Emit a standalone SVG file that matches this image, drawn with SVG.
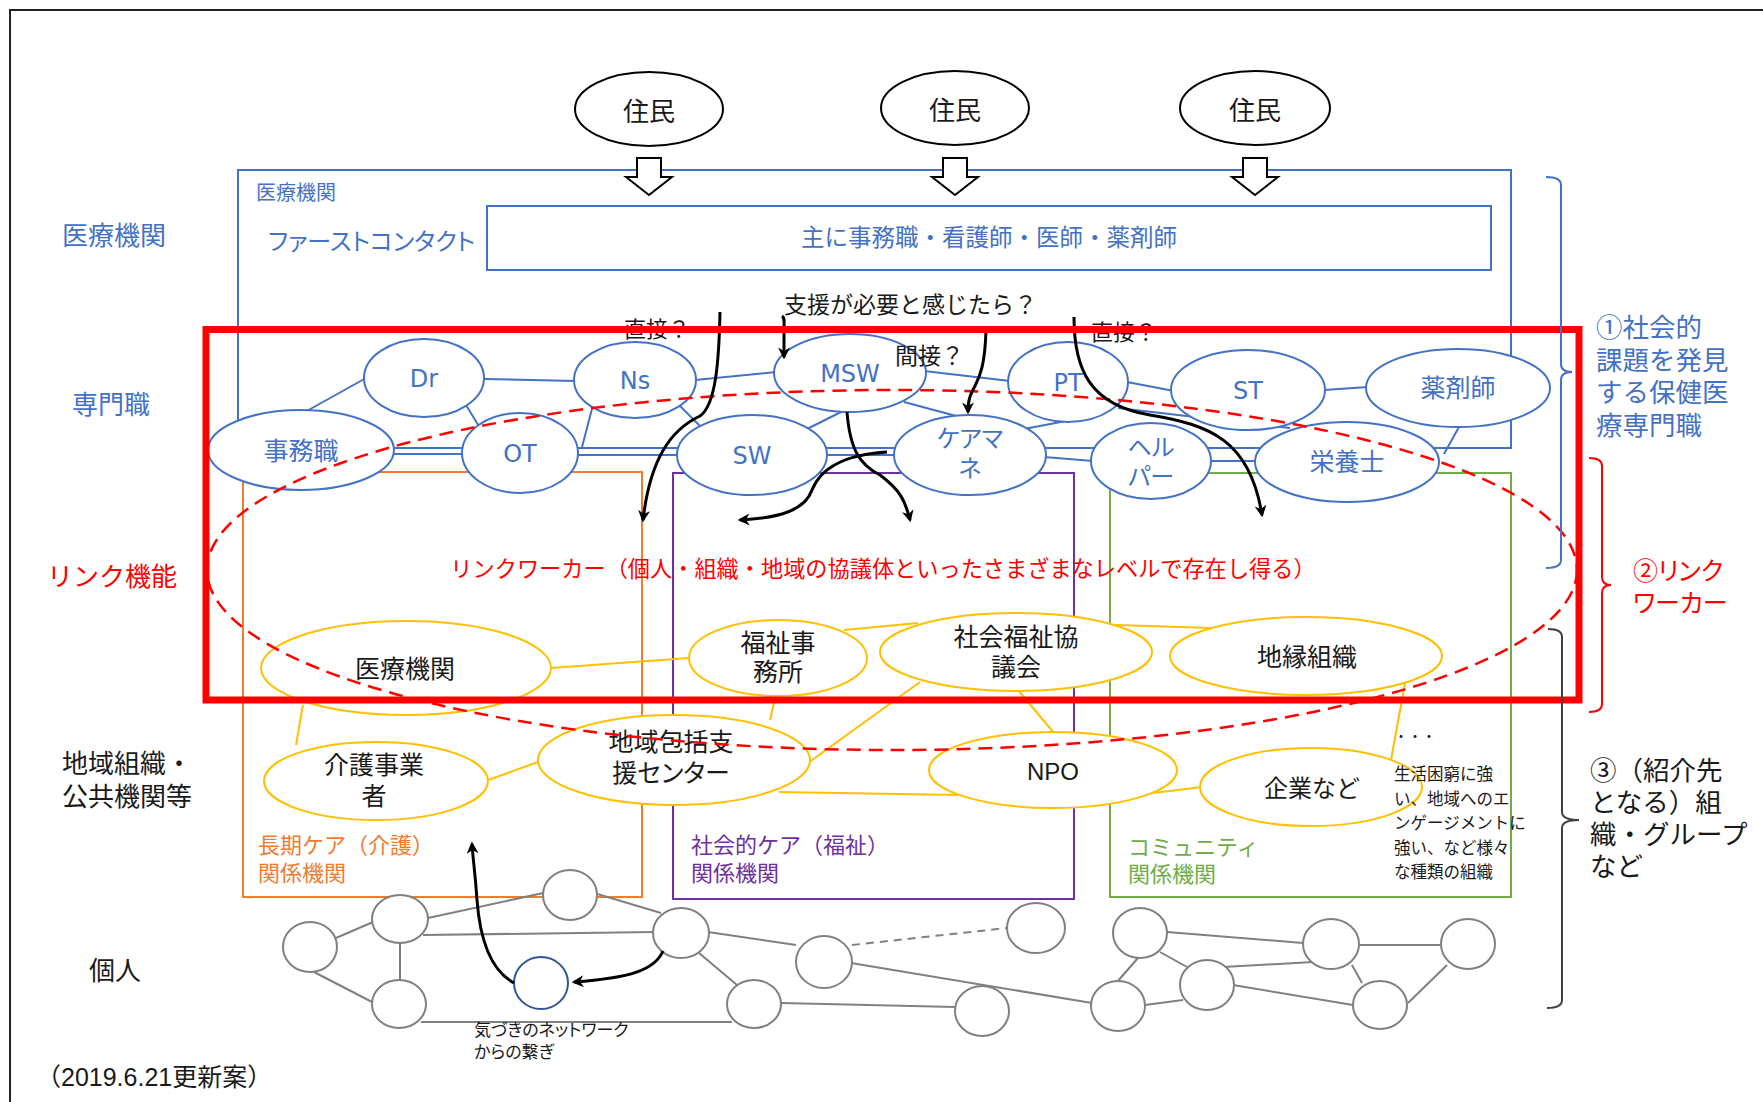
<svg xmlns="http://www.w3.org/2000/svg" width="1763" height="1102" viewBox="0 0 1763 1102">
<defs>
<style>
.jp{font-family:"Liberation Sans","Noto Sans CJK JP",sans-serif}
.lat{font-family:"DejaVu Sans","Noto Sans",sans-serif}
.arial{font-family:"Liberation Sans",Arial,sans-serif}
.blue{fill:#4472C4}
.red{fill:#FF0000}
.blk{fill:#1a1a1a}
.mid{text-anchor:middle}
.prof{fill:#fff;stroke:#4472C4;stroke-width:2}
.org{fill:#fff;stroke:#FFC000;stroke-width:2}
.ind{fill:#fff;stroke:#808080;stroke-width:2}
.bl{stroke:#4472C4;stroke-width:2;fill:none}
.yl{stroke:#FFC000;stroke-width:2;fill:none}
.gl{stroke:#808080;stroke-width:2;fill:none}
.arr{stroke:#000;stroke-width:3;fill:none;marker-end:url(#ah)}
.hol{fill:#fff;stroke:#000;stroke-width:2}
.palt{font-feature-settings:"palt"}
</style>
<marker id="ah" viewBox="0 0 10 10" refX="8" refY="5" markerWidth="4" markerHeight="4" orient="auto" markerUnits="strokeWidth">
<path d="M0,0 L10,5 L0,10 L3,5 z" fill="#000"/>
</marker>
</defs>
<rect width="1763" height="1102" fill="#fff"/>
<path d="M10,1102 V10 H1763" fill="none" stroke="#222" stroke-width="2"/>

<!-- left labels -->
<g id="labels-left" class="jp" font-size="26">
<text x="114" y="245" class="blue mid">医療機関</text>
<text x="111" y="414" class="blue mid">専門職</text>
<text x="112" y="586" class="red mid">リンク機能</text>
<text x="62" y="773" class="blk">地域組織・<tspan x="62" dy="33">公共機関等</tspan></text>
<text x="115" y="980" class="blk mid">個人</text>
<text x="36" y="1086" class="blk" font-size="25">（2019.6.21更新案）</text>
</g>

<!-- residents -->
<g id="resident1"><ellipse cx="649" cy="109" rx="74" ry="37" fill="#fff" stroke="#000" stroke-width="2"/><text x="649" y="121" class="jp blk mid" font-size="26">住民</text></g>
<g id="resident2"><ellipse cx="955" cy="108" rx="74" ry="37" fill="#fff" stroke="#000" stroke-width="2"/><text x="955" y="120" class="jp blk mid" font-size="26">住民</text></g>
<g id="resident3"><ellipse cx="1255" cy="108" rx="75" ry="37" fill="#fff" stroke="#000" stroke-width="2"/><text x="1255" y="120" class="jp blk mid" font-size="26">住民</text></g>

<!-- medical institution frame -->
<g id="medical-frame">
<rect x="238" y="170" width="1273" height="278" fill="none" stroke="#4472C4" stroke-width="2"/>
<text x="256" y="200" class="jp blue" font-size="20">医療機関</text>
<text x="268" y="250" class="jp blue palt" font-size="24">ファーストコンタクト</text>
<rect x="487" y="206" width="1004" height="64" fill="none" stroke="#4472C4" stroke-width="2"/>
<text x="989" y="246" class="jp blue mid" font-size="23.5">主に事務職・看護師・医師・薬剤師</text>
</g>

<!-- hollow arrows -->
<g id="hollow-arrows">
<path class="hol" d="M637,158 H661 V177 H672 L649,195 L626,177 H637 Z"/>
<path class="hol" d="M943,158 H967 V177 H978 L955,195 L932,177 H943 Z"/>
<path class="hol" d="M1243,158 H1267 V177 H1278 L1255,195 L1232,177 H1243 Z"/>
</g>

<!-- category boxes -->
<g id="cat-longterm">
<rect x="243" y="472" width="399" height="425" fill="none" stroke="#ED7D31" stroke-width="2"/>
<text x="258" y="853" class="jp" fill="#ED7D31" font-size="22">長期ケア（介護）<tspan x="258" dy="28">関係機関</tspan></text>
</g>
<g id="cat-social">
<rect x="673" y="473" width="401" height="426" fill="none" stroke="#7030A0" stroke-width="2"/>
<text x="691" y="853" class="jp" fill="#7030A0" font-size="22">社会的ケア（福祉）<tspan x="691" dy="28">関係機関</tspan></text>
</g>
<g id="cat-community">
<rect x="1110" y="473" width="401" height="424" fill="none" stroke="#70AD47" stroke-width="2"/>
<text x="1128" y="855" class="jp" fill="#70AD47" font-size="22">コミュニティ<tspan x="1128" dy="27">関係機関</tspan></text>
</g>

<!-- connectors -->
<g id="connectors">
<line class="bl" x1="305" y1="412" x2="366" y2="378"/>
<line class="bl" x1="484" y1="379" x2="576" y2="381"/>
<line class="bl" x1="466" y1="405" x2="480" y2="428"/>
<line class="bl" x1="593" y1="405" x2="582" y2="447"/>
<line class="bl" x1="695" y1="380" x2="776" y2="372"/>
<line class="bl" x1="680" y1="406" x2="702" y2="428"/>
<line class="bl" x1="843" y1="411" x2="805" y2="430"/>
<line class="bl" x1="392" y1="454" x2="464" y2="454"/>
<line class="bl" x1="576" y1="455" x2="679" y2="455"/>
<line class="bl" x1="825" y1="455" x2="896" y2="455"/>
<line class="bl" x1="904" y1="402" x2="960" y2="417"/>
<line class="bl" x1="924" y1="371" x2="1010" y2="381"/>
<line class="bl" x1="1024" y1="429" x2="1066" y2="421"/>
<line class="bl" x1="1127" y1="382" x2="1174" y2="391"/>
<line class="bl" x1="1118" y1="408" x2="1290" y2="428"/>
<line class="bl" x1="1044" y1="457" x2="1093" y2="461"/>
<line class="bl" x1="1209" y1="461" x2="1258" y2="461"/>
<line class="bl" x1="1324" y1="390" x2="1368" y2="387"/>
<line class="bl" x1="1459" y1="427" x2="1444" y2="454"/>

<line class="yl" x1="551" y1="668" x2="689" y2="658"/>
<line class="yl" x1="303" y1="705" x2="296" y2="745"/>
<line class="yl" x1="488" y1="780" x2="538" y2="762"/>
<line class="yl" x1="844" y1="630" x2="918" y2="623"/>
<line class="yl" x1="777" y1="690" x2="770" y2="720"/>
<line class="yl" x1="920" y1="682" x2="808" y2="763"/>
<line class="yl" x1="1018" y1="690" x2="1054" y2="733"/>
<line class="yl" x1="1116" y1="625" x2="1211" y2="628"/>
<line class="yl" x1="779" y1="792" x2="958" y2="795"/>
<line class="yl" x1="1405" y1="683" x2="1391" y2="760"/>
<line class="yl" x1="1153" y1="793" x2="1202" y2="787"/>

<line class="gl" x1="336" y1="938" x2="373" y2="922"/>
<line class="gl" x1="314" y1="972" x2="374" y2="1003"/>
<line class="gl" x1="428" y1="918" x2="543" y2="893"/>
<line class="gl" x1="423" y1="935" x2="655" y2="932"/>
<line class="gl" x1="400" y1="943" x2="400" y2="980"/>
<line class="gl" x1="594" y1="893" x2="661" y2="913"/>
<line class="gl" x1="421" y1="1022" x2="732" y2="1022"/>
<line class="gl" x1="708" y1="932" x2="796" y2="945"/>
<line class="gl" x1="699" y1="953" x2="737" y2="985"/>
<line class="gl" x1="781" y1="1003" x2="955" y2="1007"/>
<line class="gl" x1="852" y1="945" x2="1007" y2="928" stroke-dasharray="8 6"/>
<line class="gl" x1="851" y1="963" x2="1092" y2="1003"/>
<line class="gl" x1="1138" y1="958" x2="1117" y2="982"/>
<line class="gl" x1="1160" y1="952" x2="1187" y2="967"/>
<line class="gl" x1="1145" y1="1005" x2="1183" y2="1000"/>
<line class="gl" x1="1167" y1="932" x2="1303" y2="943"/>
<line class="gl" x1="1223" y1="967" x2="1313" y2="962"/>
<line class="gl" x1="1233" y1="985" x2="1353" y2="1005"/>
<line class="gl" x1="1358" y1="945" x2="1442" y2="945"/>
<line class="gl" x1="1352" y1="965" x2="1362" y2="983"/>
<line class="gl" x1="1408" y1="1003" x2="1447" y2="965"/>
</g>

<!-- professional nodes -->
<g id="node-dr"><ellipse class="prof" cx="424" cy="378" rx="60" ry="39"/><text x="424" y="387" class="lat blue mid" font-size="24">Dr</text></g>
<g id="node-ns"><ellipse class="prof" cx="635" cy="380" rx="61" ry="38"/><text x="635" y="389" class="lat blue mid" font-size="24">Ns</text></g>
<g id="node-msw"><ellipse class="prof" cx="850" cy="373" rx="76" ry="39"/><text x="850" y="382" class="lat blue mid" font-size="24">MSW</text></g>
<g id="node-jimu"><ellipse class="prof" cx="301" cy="450" rx="93" ry="40"/><text x="301" y="460" class="jp blue mid" font-size="25">事務職</text></g>
<g id="node-ot"><ellipse class="prof" cx="520" cy="453" rx="58" ry="40"/><text x="520" y="462" class="lat blue mid" font-size="24">OT</text></g>
<g id="node-sw"><ellipse class="prof" cx="752" cy="455" rx="75" ry="40"/><text x="752" y="464" class="lat blue mid" font-size="24">SW</text></g>
<g id="node-pt"><ellipse class="prof" cx="1068" cy="382" rx="60" ry="40"/><text x="1068" y="391" class="lat blue mid" font-size="24">PT</text></g>
<g id="node-st"><ellipse class="prof" cx="1248" cy="390" rx="77" ry="40"/><text x="1248" y="399" class="lat blue mid" font-size="24">ST</text></g>
<g id="node-yakuzaishi"><ellipse class="prof" cx="1458" cy="388" rx="92" ry="39"/><text x="1458" y="397" class="jp blue mid" font-size="25">薬剤師</text></g>
<g id="node-caremane"><ellipse class="prof" cx="970" cy="455" rx="76" ry="40"/><text x="970" y="447" class="jp blue mid palt" font-size="24">ケアマ<tspan x="970" dy="30">ネ</tspan></text></g>
<g id="node-helper"><ellipse class="prof" cx="1151" cy="461" rx="60" ry="38"/><text x="1151" y="456" class="jp blue mid palt" font-size="24">ヘル<tspan x="1151" dy="29">パー</tspan></text></g>
<g id="node-eiyoushi"><ellipse class="prof" cx="1347" cy="462" rx="92" ry="40"/><text x="1347" y="471" class="jp blue mid" font-size="25">栄養士</text></g>

<!-- organisation nodes -->
<g id="org-iryo"><ellipse class="org" cx="406" cy="668" rx="145" ry="47"/><text x="405" y="678" class="jp blk mid" font-size="25">医療機関</text></g>
<g id="org-fukushijimusho"><ellipse class="org" cx="778" cy="658" rx="89" ry="38"/><text x="778" y="652" class="jp blk mid" font-size="25">福祉事<tspan x="778" dy="29">務所</tspan></text></g>
<g id="org-shakyo"><ellipse class="org" cx="1016" cy="652" rx="136" ry="39"/><text x="1016" y="646" class="jp blk mid" font-size="25">社会福祉協<tspan x="1016" dy="30">議会</tspan></text></g>
<g id="org-chien"><ellipse class="org" cx="1306" cy="656" rx="136" ry="39"/><text x="1307" y="666" class="jp blk mid" font-size="25">地縁組織</text></g>
<g id="org-kaigo"><ellipse class="org" cx="376" cy="781" rx="112" ry="39"/><text x="374" y="774" class="jp blk mid" font-size="25">介護事業<tspan x="374" dy="31">者</tspan></text></g>
<g id="org-houkatsu"><ellipse class="org" cx="674" cy="760" rx="136" ry="45"/><text x="671" y="751" class="jp blk mid" font-size="25">地域包括支<tspan x="671" dy="31" class="palt">援センター</tspan></text></g>
<g id="org-npo"><ellipse class="org" cx="1053" cy="770" rx="124" ry="38"/><text x="1053" y="780" class="arial blk mid" font-size="24">NPO</text></g>
<g id="org-kigyo"><ellipse class="org" cx="1311" cy="787" rx="111" ry="39"/><text x="1312" y="797" class="jp blk mid" font-size="24">企業など</text></g>
<g id="org-note" class="jp blk">
<text x="1394" y="741" font-size="14">・・・</text>
<text x="1394" y="780" font-size="16.5">生活困窮に強<tspan x="1394" dy="24.5">い、地域へのエ</tspan><tspan x="1394" dy="24.5">ンゲージメントに</tspan><tspan x="1394" dy="24.5">強い、など様々</tspan><tspan x="1394" dy="24.5">な種類の組織</tspan></text>
</g>

<!-- individuals network -->
<g id="individuals">
<ellipse class="ind" cx="310" cy="947" rx="27" ry="25"/>
<ellipse class="ind" cx="400" cy="919" rx="28" ry="24"/>
<ellipse class="ind" cx="570" cy="895" rx="27" ry="25"/>
<ellipse class="ind" cx="681" cy="933" rx="28" ry="25"/>
<ellipse class="ind" cx="399" cy="1004" rx="27" ry="24"/>
<ellipse class="ind" cx="754" cy="1004" rx="27" ry="24"/>
<ellipse class="ind" cx="824" cy="962" rx="28" ry="26"/>
<ellipse class="ind" cx="982" cy="1011" rx="27" ry="25"/>
<ellipse class="ind" cx="1036" cy="928" rx="29" ry="25"/>
<ellipse class="ind" cx="1140" cy="933" rx="27" ry="25"/>
<ellipse class="ind" cx="1207" cy="985" rx="27" ry="25"/>
<ellipse class="ind" cx="1118" cy="1006" rx="27" ry="25"/>
<ellipse class="ind" cx="1331" cy="944" rx="28" ry="25"/>
<ellipse class="ind" cx="1380" cy="1005" rx="27" ry="24"/>
<ellipse class="ind" cx="1468" cy="944" rx="27" ry="25"/>
</g>
<g id="node-awareness">
<ellipse cx="541" cy="983" rx="27" ry="26" fill="#fff" stroke="#2F5597" stroke-width="2"/>
<text x="474" y="1036" class="jp blk palt" font-size="17">気づきのネットワーク<tspan x="474" dy="22">からの繋ぎ</tspan></text>
</g>

<!-- link worker dashed ellipse -->
<g id="linkworker">
<ellipse cx="892" cy="570" rx="685" ry="180" fill="none" stroke="#FF0000" stroke-width="2.5" stroke-dasharray="14 8"/>
<text x="883" y="577" class="jp red mid" font-size="22.2">リンクワーカー（個人・組織・地域の協議体といったさまざまなレベルで存在し得る）</text>
</g>

<!-- black arrows -->
<g id="arrows">
<path class="arr" d="M720,312 C719,360 716,405 700,416 C670,430 650,460 643,520"/>
<path class="arr" stroke-width="2.5" d="M782,316 C785,318 784,322 784,330 L784,357"/>
<path class="arr" d="M986,330 C985,365 980,376 975,386 C970,395 968,400 968,412"/>
<path class="arr" d="M1074,317 C1074,370 1090,405 1150,415 C1210,425 1250,440 1262,515"/>
<path class="arr" d="M847,412 C850,450 860,465 880,475 C900,490 905,500 910,520"/>
<path class="arr" d="M887,452 C840,455 820,470 812,490 C805,510 780,518 740,520"/>
<path class="arr" d="M514,983 C490,970 480,940 477,900 C475,870 473,860 472,844"/>
<path class="arr" d="M663,951 C655,970 630,978 574,982"/>
</g>
<g id="arrow-labels" class="jp blk">
<text x="784" y="313" font-size="23">支援が必要と感じたら？</text>
<text x="624" y="337" font-size="22">直接？</text>
<text x="895" y="364" font-size="23">間接？</text>
<text x="1091" y="340" font-size="22">直接？</text>
</g>

<!-- red highlight box -->
<rect id="highlight" x="206" y="329.5" width="1373" height="370.5" fill="none" stroke="#FF0000" stroke-width="7"/>

<!-- right brackets -->
<g id="bracket1">
<path d="M1546,177 Q1561,177 1561,185 V364 Q1561,372 1572,372 Q1561,372 1561,380 V560 Q1561,568 1546,568" fill="none" stroke="#4472C4" stroke-width="2"/>
<text x="1596" y="337" class="jp blue" font-size="26.5">①社会的<tspan x="1596" dy="32.5">課題を発見</tspan><tspan x="1596" dy="32.5">する保健医</tspan><tspan x="1596" dy="32.5">療専門職</tspan></text>
</g>
<g id="bracket2">
<path d="M1589,458 Q1602,458 1602,466 V577 Q1602,585 1611,585 Q1602,585 1602,593 V704 Q1602,712 1589,712" fill="none" stroke="#FF0000" stroke-width="2"/>
<text x="1633" y="580" class="jp red palt" font-size="25">②リンク<tspan x="1633" dy="32">ワーカー</tspan></text>
</g>
<g id="bracket3">
<path d="M1548,629 Q1562,629 1562,637 V812 Q1562,820 1579,820 Q1562,820 1562,828 V1000 Q1562,1008 1547,1008" fill="none" stroke="#404040" stroke-width="2"/>
<text x="1590" y="780" class="jp blk" font-size="26.5">③（紹介先<tspan x="1590" dy="32">となる）組</tspan><tspan x="1590" dy="32">織・グループ</tspan><tspan x="1590" dy="32">など</tspan></text>
</g>
</svg>
